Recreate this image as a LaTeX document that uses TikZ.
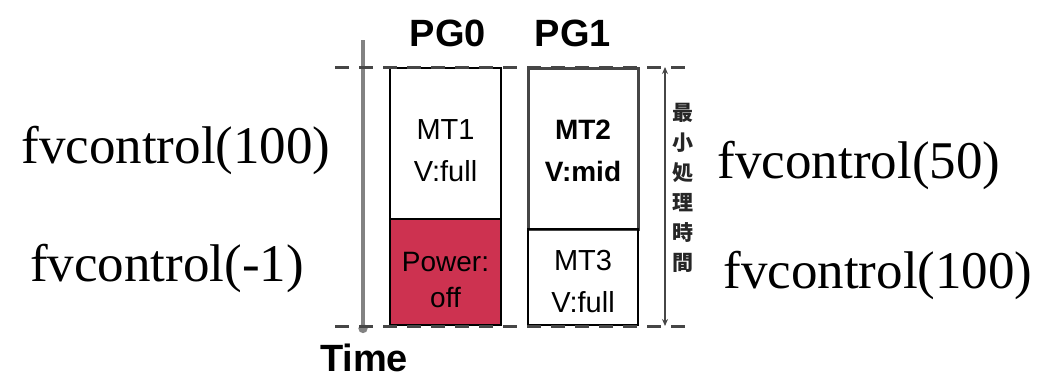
\documentclass[tikz,border=0pt]{standalone}
\usepackage{fontspec}
\setmainfont{Liberation Serif}
\setsansfont{Liberation Sans}
\newfontfamily\cjkfont{Noto Sans CJK JP}
\usetikzlibrary{arrows.meta}
\definecolor{powerred}{RGB}{205,50,80}
\definecolor{dashgray}{RGB}{70,70,70}
\definecolor{axisgray}{RGB}{130,130,130}
\tikzset{
  taskbox/.style={draw=black, line width=1.6pt, minimum width=111pt, inner sep=0pt},
  boxtext/.style={align=center, inner sep=0pt, font=\sffamily\fontsize{29}{42}\selectfont},
  pglabel/.style={font=\sffamily\bfseries\fontsize{38}{44}\selectfont},
  fvlabel/.style={font=\fontsize{53}{60}\selectfont, inner sep=0pt},
  dashline/.style={dashgray, line width=3pt, dash pattern=on 14pt off 10pt},
}
\begin{document}
\begin{tikzpicture}[x=1pt,y=-1pt]
\useasboundingbox (0,0) rectangle (1052,381);
% time axis
\coordinate (ttop) at (363,40);
\coordinate (tbot) at (363,333);
\draw[axisgray, line width=3.5pt, -{Circle[length=9pt]}] (ttop) -- (tbot);
\node[font=\sffamily\bfseries\fontsize{38}{44}\selectfont] (time) at (364,358) {Time};
% PG0
\node[taskbox, minimum height=151pt] (mt1) at (445.5,143.5) {};
\node[taskbox, fill=powerred, minimum height=106pt] (power) at (445.5,272) {};
% PG1
\node[taskbox, draw=dashgray, line width=3pt, minimum width=110pt, minimum height=161pt] (mt2) at (583,148.5) {};
\node[taskbox, minimum width=110pt, minimum height=96pt] (mt3) at (583,277) {};
% box texts
\node[boxtext] (mt1t) at (445.5,151) {MT1\\V:full};
\node[boxtext, font=\sffamily\fontsize{28}{36}\selectfont] (powert) at (445.5,280) {Power:\\off};
\node[boxtext, font=\sffamily\bfseries\fontsize{28}{42}\selectfont] (mt2t) at (583,151) {MT2\\V:mid};
\node[boxtext] (mt3t) at (583,282) {MT3\\V:full};
% headings
\node[pglabel] (pg0) at (448,33) {PG0};
\node[pglabel] (pg1) at (573,33) {PG1};
% dashed limits
\coordinate (dtl) at (335,67);
\coordinate (dtr) at (693,67);
\coordinate (dbl) at (335,326);
\coordinate (dbr) at (693,326);
\draw[dashline] (dtl) -- (dtr);
\draw[dashline] (dbl) -- (dbr);
% min processing time
\coordinate (mtop) at (665,67);
\coordinate (mbot) at (665,326);
\draw[dashgray, line width=1.8pt, {Stealth[length=7pt,width=6pt]}-{Stealth[length=7pt,width=6pt]}] (mtop) -- (mbot);
\node[font=\cjkfont\bfseries\fontsize{21}{30}\selectfont, align=center, inner sep=0pt, text=black!85] (mpt) at (683,188) {最\\小\\処\\理\\時\\間};
% fvcontrol labels
\node[fvlabel] (fv1) at (176,150) {fvcontrol(100)};
\node[fvlabel] (fv2) at (167,268) {fvcontrol(-1)};
\node[fvlabel] (fv3) at (859,165) {fvcontrol(50)};
\node[fvlabel] (fv4) at (878,275) {fvcontrol(100)};
\end{tikzpicture}
\end{document}
